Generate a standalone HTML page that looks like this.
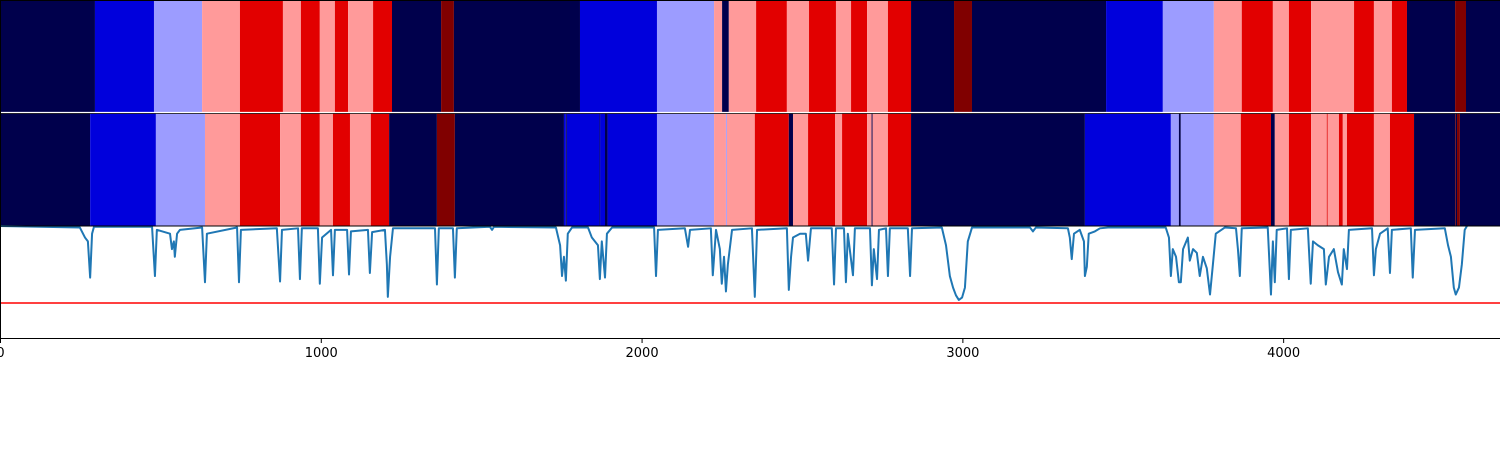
<!DOCTYPE html>
<html><head><meta charset="utf-8"><style>
html,body{margin:0;padding:0;background:#fff;}
svg{display:block;}
text{font-family:"DejaVu Sans","Liberation Sans",sans-serif;font-size:13px;fill:#000;}
</style></head><body>
<svg id="chart" width="1500" height="450" xmlns="http://www.w3.org/2000/svg">
<g id="row1"></g>
<g id="row2"></g>
<g id="lineplot"></g>
<g id="axes"></g>
</svg>
<script>
const xMax = 4676;
const row1Ends = [296,480,630,748,882,938,997,1044,1085,1163,1222,1375,1415,1808,2048,2226,2251,2272,2357,2453,2522,2606,2653,2703,2768,2840,2974,3030,3448,3625,3784,3871,3968,4018,4087,4221,4283,4339,4386,4536,4570,4676];
const row1Levels = [0,1,2,3,4,3,4,3,4,3,4,0,5,0,1,2,3,0,3,4,3,4,3,4,3,4,0,5,0,1,2,3,4,3,4,3,4,3,4,0,5,0];
const row2Ends = [281,486,639,748,873,938,997,1038,1091,1156,1213,1362,1418,1758,1764,1767,1869,1871,1886,1894,2048,2226,2263,2266,2353,2459,2472,2519,2603,2625,2703,2717,2720,2768,2840,3382,3650,3675,3681,3784,3868,3962,3974,4018,4087,4136,4139,4174,4186,4199,4283,4333,4408,4536,4538,4542,4551,4676];
const row2Levels = [0,1,2,3,4,3,4,3,4,3,4,0,5,0,1,0,1,0,1,0,1,2,3,2,3,4,0,3,4,3,4,3,0,3,4,0,1,2,0,2,3,4,0,3,4,3,4,3,4,3,4,3,4,0,5,0,5,0];
const levelColors = ["#00004c","#0000dc","#9c9cff","#ff9a9a","#e20000","#800000"];
const lineX = [0,249,265,274,281,287,293,474,483,489,530,536,542,545,552,561,630,639,645,739,745,751,863,873,879,929,935,941,991,997,1004,1032,1038,1044,1082,1088,1094,1147,1153,1160,1200,1206,1209,1216,1225,1356,1362,1368,1412,1418,1424,1527,1534,1540,1733,1746,1752,1758,1764,1770,1783,1833,1845,1864,1870,1876,1886,1892,1908,2039,2045,2051,2135,2145,2151,2216,2222,2232,2244,2250,2257,2263,2269,2282,2344,2353,2360,2453,2459,2466,2472,2494,2512,2519,2528,2593,2600,2606,2631,2637,2643,2659,2665,2712,2718,2724,2734,2740,2762,2768,2774,2830,2837,2843,2936,2949,2961,2971,2980,2989,2999,3008,3017,3030,3211,3220,3229,3329,3335,3341,3348,3366,3379,3382,3388,3394,3413,3429,3454,3634,3644,3650,3656,3666,3675,3681,3688,3703,3709,3719,3731,3740,3750,3762,3772,3781,3790,3818,3853,3859,3865,3871,3952,3962,3968,3974,3980,4012,4018,4024,4077,4086,4093,4108,4127,4133,4143,4158,4171,4183,4189,4199,4205,4277,4283,4289,4302,4326,4333,4339,4398,4404,4411,4504,4514,4523,4532,4538,4548,4557,4566,4573];
const lineY = [1.0,0.98,0.85,0.8,0.33,0.9,0.99,0.99,0.35,0.95,0.9,0.7,0.8,0.6,0.9,0.95,0.98,0.27,0.9,0.98,0.27,0.95,0.97,0.28,0.95,0.97,0.31,0.97,0.97,0.25,0.85,0.95,0.36,0.95,0.95,0.37,0.93,0.95,0.39,0.92,0.95,0.5,0.08,0.6,0.97,0.97,0.24,0.97,0.97,0.33,0.97,0.99,0.95,0.99,0.98,0.75,0.35,0.6,0.29,0.9,0.98,0.98,0.85,0.75,0.31,0.8,0.33,0.9,0.98,0.98,0.35,0.95,0.97,0.73,0.95,0.97,0.36,0.95,0.7,0.25,0.6,0.15,0.5,0.95,0.97,0.08,0.95,0.97,0.17,0.6,0.85,0.9,0.9,0.55,0.97,0.97,0.24,0.97,0.97,0.27,0.9,0.36,0.97,0.97,0.23,0.7,0.31,0.95,0.97,0.35,0.97,0.97,0.35,0.97,0.98,0.75,0.35,0.2,0.1,0.04,0.07,0.2,0.8,0.98,0.98,0.93,0.98,0.97,0.85,0.57,0.9,0.95,0.8,0.35,0.47,0.9,0.93,0.97,0.98,0.98,0.85,0.35,0.7,0.6,0.27,0.27,0.7,0.85,0.55,0.7,0.65,0.35,0.6,0.45,0.11,0.5,0.9,0.98,0.97,0.7,0.35,0.97,0.98,0.11,0.8,0.27,0.95,0.97,0.31,0.95,0.97,0.25,0.8,0.75,0.7,0.24,0.6,0.7,0.4,0.24,0.7,0.44,0.95,0.97,0.36,0.7,0.9,0.97,0.39,0.95,0.97,0.33,0.95,0.97,0.75,0.6,0.2,0.11,0.2,0.5,0.95,1.0];
const thresholdValue = 0;
const xTicks = [0,1000,2000,3000,4000];

const NS = "http://www.w3.org/2000/svg";
const xs = v => v / xMax * 1500;
const ys = v => 303 - v * 77;
function mk(tag, attrs, parent){const e=document.createElementNS(NS,tag);for(const k in attrs)e.setAttribute(k,attrs[k]);parent.appendChild(e);return e;}

function drawRow(ends, levels, g, y0, h, nm){
  let start = 0;
  for(let i=0;i<ends.length;i++){
    const x0 = xs(start), x1 = xs(ends[i]);
    const r = mk('rect',{x:x0,y:y0,width:Math.max(x1-x0,0.8),height:h,fill:levelColors[levels[i]]},g);
    
    
    start = ends[i];
  }
}
drawRow(row1Ends,row1Levels,document.getElementById('row1'),1,111,'top-row');
drawRow(row2Ends,row2Levels,document.getElementById('row2'),113.5,112,'bottom-row');

const lp = document.getElementById('lineplot');
const th = mk('line',{x1:0,x2:1500,y1:ys(thresholdValue),y2:ys(thresholdValue),stroke:'#ff0000','stroke-width':1.5},lp);


let pts = lineX.map((x,i)=>xs(x).toFixed(2)+','+ys(lineY[i]).toFixed(2)).join(' ');
const pl = mk('polyline',{points:pts,fill:'none',stroke:'#1f77b4','stroke-width':2,'stroke-linejoin':'round'},lp);



const ax = document.getElementById('axes');
mk('line',{x1:0,x2:1500,y1:0.5,y2:0.5,stroke:'#000','stroke-width':1},ax);
mk('line',{x1:0,x2:1500,y1:112.5,y2:112.5,stroke:'#fff','stroke-width':1.2},ax);
mk('line',{x1:0,x2:1500,y1:113.5,y2:113.5,stroke:'#000','stroke-width':0.8},ax);
mk('line',{x1:0,x2:1500,y1:226,y2:226,stroke:'#000','stroke-width':1},ax);
mk('line',{x1:0,x2:1500,y1:338.5,y2:338.5,stroke:'#000','stroke-width':1},ax);
mk('line',{x1:0.5,x2:0.5,y1:0,y2:339,stroke:'#000','stroke-width':1},ax);
xTicks.forEach(t=>{
  const x = xs(t)+0.5;
  const tk = mk('line',{x1:x,x2:x,y1:338,y2:343,stroke:'#000','stroke-width':1},ax);
  
  
  const tx = mk('text',{x:x,y:357,'text-anchor':'middle'},ax);
  tx.textContent = t;
  
  
});
</script>
</body></html>
